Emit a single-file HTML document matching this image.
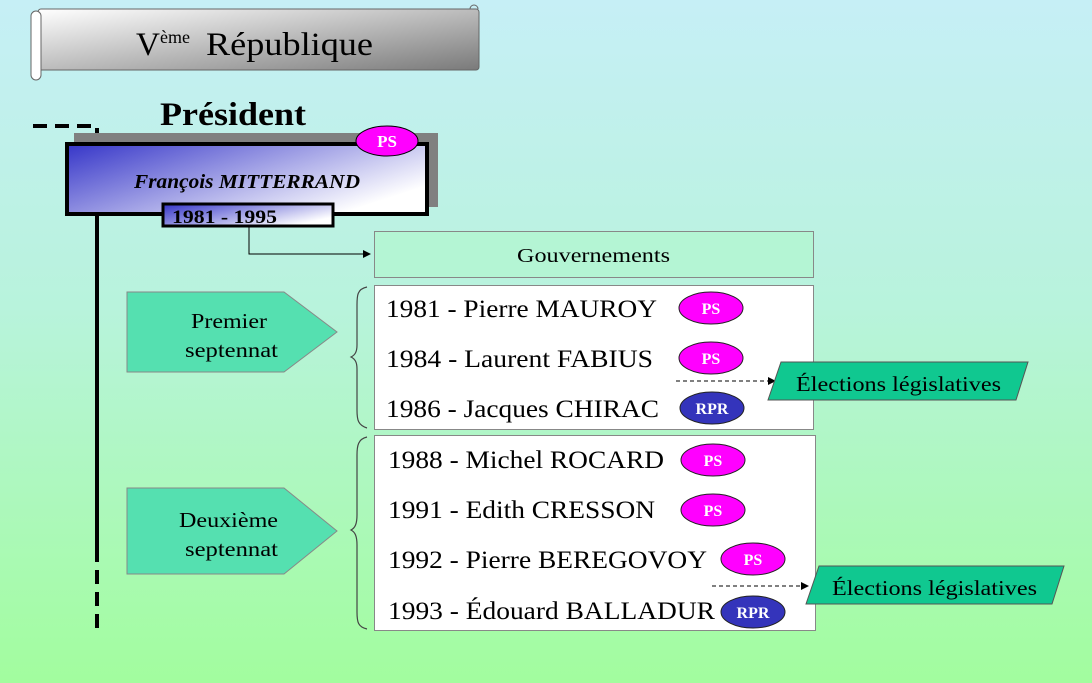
<!DOCTYPE html>
<html><head><meta charset="utf-8"><style>
body{margin:0;width:1092px;height:683px;overflow:hidden;background:linear-gradient(#c6eff6,#b8f3dc 45%,#a2fd9e);font-family:"Liberation Serif",serif;}
svg{position:absolute;left:0;top:0}
</style></head><body>
<svg width="1092" height="683" viewBox="0 0 1092 683" xmlns="http://www.w3.org/2000/svg">
<defs>
<linearGradient id="g1" x1="0" y1="0" x2="1" y2="1"><stop offset="0" stop-color="#fff"/><stop offset="1" stop-color="#7a7a7a"/></linearGradient>
<linearGradient id="g2" x1="0" y1="0" x2="1" y2="0.6"><stop offset="0" stop-color="#3535c8"/><stop offset="1" stop-color="#fff"/></linearGradient>
<marker id="ar" markerWidth="8" markerHeight="8" refX="7" refY="4" orient="auto"><path d="M0,0 L8,4 L0,8z" fill="#000"/></marker>
</defs>
<rect x="38" y="9" width="441" height="61" rx="3" fill="url(#g1)" stroke="#666"/>
<rect x="31" y="11" width="10" height="69" rx="5" fill="#fff" stroke="#666"/>
<path d="M470,9 a4,4 0 1 1 8,0" fill="none" stroke="#666"/>
<text x="136" y="55" font-size="33"><tspan textLength="24" lengthAdjust="spacingAndGlyphs">V</tspan><tspan font-size="18" dy="-12">ème</tspan><tspan dy="12" x="206" textLength="167" lengthAdjust="spacingAndGlyphs">République</tspan></text>
<text x="160" y="125" font-size="33" font-weight="bold" textLength="146" lengthAdjust="spacingAndGlyphs">Président</text>
<path d="M33,126 H97 V215" fill="none" stroke="#000" stroke-width="4" stroke-dasharray="14,8"/>
<line x1="97" y1="215" x2="97" y2="548" stroke="#000" stroke-width="4"/>
<line x1="97" y1="548" x2="97" y2="632" stroke="#000" stroke-width="4" stroke-dasharray="14,8"/>
<rect x="74" y="133" width="364" height="74" fill="#808080"/>
<rect x="67" y="144" width="360" height="70" fill="url(#g2)" stroke="#000" stroke-width="4"/>
<ellipse cx="387" cy="141" rx="31" ry="15" fill="#ff00ff" stroke="#000" stroke-width="1"/>
<text x="387" y="147" font-size="17" font-weight="bold" fill="#fff" text-anchor="middle">PS</text>
<text x="134" y="188" font-size="20" font-weight="bold" font-style="italic" textLength="226" lengthAdjust="spacingAndGlyphs">François MITTERRAND</text>
<rect x="163" y="204" width="170" height="22" fill="url(#g2)" stroke="#000" stroke-width="3"/>
<text x="172" y="223" font-size="19" font-weight="bold" textLength="105" lengthAdjust="spacingAndGlyphs">1981 - 1995</text>
<path d="M249,227 V254 H370" fill="none" stroke="#000" stroke-width="1" marker-end="url(#ar)"/>
<rect x="374.5" y="231.5" width="439" height="46" fill="#b4f5d4" stroke="#888"/>
<text x="517" y="262" font-size="20" textLength="153" lengthAdjust="spacingAndGlyphs">Gouvernements</text>
<rect x="374.5" y="285.5" width="439" height="144" fill="#fff" stroke="#888"/>
<rect x="374.5" y="435.5" width="441" height="195" fill="#fff" stroke="#888"/>
<path d="M367,287 C357,289 357,296 357,305 V345 C357,352 355,355 351,357 C355,359 357,362 357,369 V410 C357,420 358,425 367,428" fill="none" stroke="#444" stroke-width="1.2"/>
<path d="M367,437 C358,439 357,446 357,455 V515 C357,524 355,528 351,530 C355,532 357,536 357,545 V612 C357,622 358,627 367,629" fill="none" stroke="#444" stroke-width="1.2"/>
<path d="M127,292 H284 L337,332 L284,372 H127z" fill="#55e0b0" stroke="#888"/>
<text x="191" y="328" font-size="21" textLength="76" lengthAdjust="spacingAndGlyphs">Premier</text>
<text x="185" y="357" font-size="21" textLength="93" lengthAdjust="spacingAndGlyphs">septennat</text>
<path d="M127,488 H284 L337,531 L284,574 H127z" fill="#55e0b0" stroke="#888"/>
<text x="179" y="527" font-size="21" textLength="99" lengthAdjust="spacingAndGlyphs">Deuxième</text>
<text x="185" y="556" font-size="21" textLength="93" lengthAdjust="spacingAndGlyphs">septennat</text>
<g font-size="25" lengthAdjust="spacingAndGlyphs">
<text x="386" y="317" textLength="271" lengthAdjust="spacingAndGlyphs">1981 - Pierre MAUROY</text>
<text x="386" y="367" textLength="267" lengthAdjust="spacingAndGlyphs">1984 - Laurent FABIUS</text>
<text x="386" y="417" textLength="273" lengthAdjust="spacingAndGlyphs">1986 - Jacques CHIRAC</text>
<text x="388" y="468" textLength="276" lengthAdjust="spacingAndGlyphs">1988 - Michel ROCARD</text>
<text x="388" y="518" textLength="267" lengthAdjust="spacingAndGlyphs">1991 - Edith CRESSON</text>
<text x="388" y="568" textLength="319" lengthAdjust="spacingAndGlyphs">1992 - Pierre BEREGOVOY</text>
<text x="388" y="619" textLength="327" lengthAdjust="spacingAndGlyphs">1993 - Édouard BALLADUR</text>
</g>
<g font-size="16" font-weight="bold" fill="#fff" text-anchor="middle">
<ellipse cx="711" cy="308" rx="32" ry="16" fill="#ff00ff" stroke="#222"/><text x="711" y="314">PS</text>
<ellipse cx="711" cy="358" rx="32" ry="16" fill="#ff00ff" stroke="#222"/><text x="711" y="364">PS</text>
<ellipse cx="712" cy="408" rx="32" ry="16" fill="#3434bb" stroke="#222"/><text x="712" y="414">RPR</text>
<ellipse cx="713" cy="460" rx="32" ry="16" fill="#ff00ff" stroke="#222"/><text x="713" y="466">PS</text>
<ellipse cx="713" cy="510" rx="32" ry="16" fill="#ff00ff" stroke="#222"/><text x="713" y="516">PS</text>
<ellipse cx="753" cy="559" rx="32" ry="16" fill="#ff00ff" stroke="#222"/><text x="753" y="565">PS</text>
<ellipse cx="753" cy="612" rx="32" ry="16" fill="#3434bb" stroke="#222"/><text x="753" y="618">RPR</text>
</g>
<line x1="676" y1="381" x2="775" y2="381" stroke="#000" stroke-dasharray="4,3" marker-end="url(#ar)"/>
<path d="M781,362 H1028 L1016,400 H768z" fill="#10c890" stroke="#555"/>
<text x="796" y="391" font-size="21" textLength="205" lengthAdjust="spacingAndGlyphs">Élections législatives</text>
<line x1="712" y1="586" x2="808" y2="586" stroke="#000" stroke-dasharray="4,3" marker-end="url(#ar)"/>
<path d="M819,566 H1064 L1052,604 H806z" fill="#10c890" stroke="#555"/>
<text x="832" y="595" font-size="21" textLength="205" lengthAdjust="spacingAndGlyphs">Élections législatives</text>
</svg>
</body></html>
